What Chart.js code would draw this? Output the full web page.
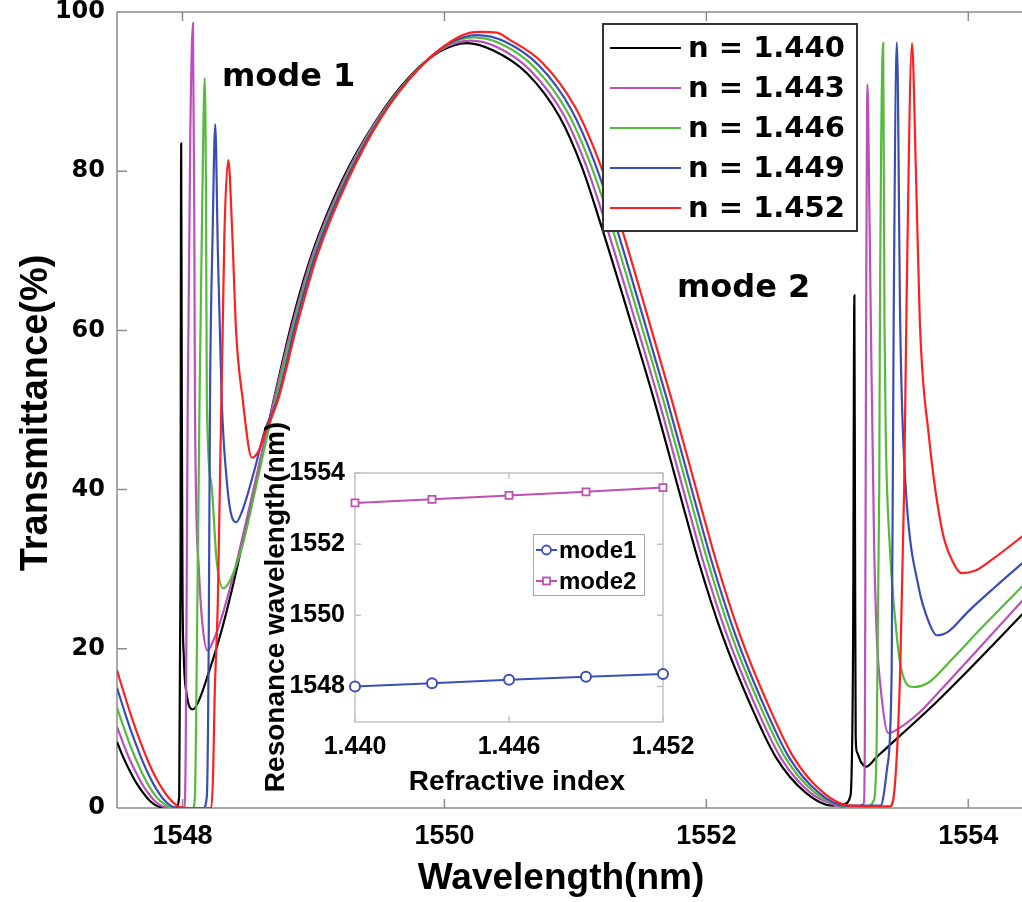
<!DOCTYPE html>
<html>
<head>
<meta charset="utf-8">
<script src="https://cdn.jsdelivr.net/npm/chart.js@4.4.1/dist/chart.umd.min.js"></script>
<style>
  html, body { margin: 0; padding: 0; background: #ffffff; }
  #wrap { position: relative; width: 1022px; height: 902px; }
  #wrap canvas { position: absolute; left: 0; top: 0; }
</style>
</head>
<body>
<div id="wrap">
  <canvas id="main" width="1022" height="902"></canvas>
  <canvas id="inset" width="1022" height="902"></canvas>
</div>
<script>
// ---- Transmission spectra (wavelength in nm, transmittance in %) ----
const wlN1440 = [1547.50,1547.55,1547.60,1547.65,1547.70,1547.75,1547.80,1547.85,1547.90,1547.95,1547.975,1547.985,1547.99,1547.995,1548.00,1548.01,1548.03,1548.08,1548.12,1548.20,1548.30,1548.40,1548.50,1548.60,1548.70,1548.84,1548.99,1549.22,1549.48,1549.73,1549.96,1550.17,1550.37,1550.63,1550.88,1551.05,1551.20,1551.40,1551.60,1551.81,1551.94,1552.12,1552.32,1552.53,1552.76,1552.96,1553.05,1553.10,1553.12,1553.13,1553.135,1553.14,1553.15,1553.18,1553.22,1553.30,1553.50,1553.75,1554.00,1554.20,1554.45];
const trN1440 = [8.3,6.3,4.6,3.1,1.9,0.9,0.3,0.05,0.0,0.0,1.5,30,83.5,50,28,19,14.5,12.4,13.3,17,22.4,29,36.5,44,51.5,61.3,69.7,78.9,86.4,91.8,95.0,96.1,95.2,92.3,86.8,80.5,73.0,62.3,51.3,38.7,31.0,21.8,13.6,6.4,1.9,0.3,0.5,1.5,20,64.4,35,9,7,5.8,5.2,6.4,9.4,13.2,17.3,20.7,25.0];

const wlN1443 = [1547.50,1547.55,1547.60,1547.65,1547.70,1547.75,1547.80,1547.85,1547.90,1548.00,1548.015,1548.025,1548.04,1548.06,1548.08,1548.09,1548.095,1548.125,1548.15,1548.19,1548.24,1548.30,1548.40,1548.50,1548.60,1548.70,1548.85,1549.00,1549.23,1549.49,1549.75,1549.98,1550.20,1550.40,1550.66,1550.91,1551.08,1551.235,1551.435,1551.635,1551.845,1551.975,1552.155,1552.355,1552.565,1552.795,1552.995,1553.10,1553.20,1553.21,1553.22,1553.23,1553.245,1553.255,1553.28,1553.30,1553.33,1553.39,1553.45,1553.62,1553.80,1554.00,1554.20,1554.45];
const trN1443 = [10.2,8.0,6.0,4.3,2.8,1.6,0.7,0.2,0.0,0.0,0.0,8,51,85,98.6,75,51,30,23.5,19.8,21.2,24.0,30,37,44.2,51.3,61.4,69.8,78.9,86.5,92.0,95.3,96.4,95.6,92.6,87.1,80.8,73.2,62.4,51.3,38.7,31.0,21.8,13.6,6.4,1.9,0.3,0.0,0.5,8,61,90.9,75,62,34,22,15.2,9.4,9.8,11.9,15.0,18.6,22.2,26.7];

const wlN1446 = [1547.50,1547.55,1547.60,1547.65,1547.70,1547.75,1547.80,1547.85,1547.90,1547.95,1548.08,1548.095,1548.11,1548.13,1548.15,1548.17,1548.18,1548.186,1548.22,1548.26,1548.31,1548.36,1548.45,1548.55,1548.63,1548.71,1548.86,1549.01,1549.24,1549.50,1549.76,1550.00,1550.22,1550.43,1550.69,1550.94,1551.11,1551.27,1551.47,1551.67,1551.88,1552.01,1552.19,1552.39,1552.60,1552.83,1553.03,1553.20,1553.28,1553.30,1553.32,1553.325,1553.35,1553.36,1553.37,1553.40,1553.43,1553.49,1553.58,1553.70,1553.87,1554.10,1554.45];
const trN1446 = [12.6,10.2,7.9,5.9,4.1,2.6,1.4,0.6,0.1,0.0,0.0,1.5,20,51,75,91.7,75,51,40.8,31.2,27.6,28.5,32.5,39.5,45.5,51.2,61.3,69.7,78.9,86.6,92.2,95.6,96.8,96.0,93.0,87.4,81.1,73.4,62.5,51.3,38.7,31.0,21.8,13.6,6.4,1.9,0.3,0.0,1,8,40,61,96.1,61,46.6,33,25.8,17.3,15.2,15.8,18.6,22.6,28.5];

const wlN1449 = [1547.50,1547.55,1547.60,1547.65,1547.70,1547.75,1547.80,1547.85,1547.90,1547.95,1548.00,1548.16,1548.186,1548.20,1548.21,1548.23,1548.25,1548.27,1548.30,1548.34,1548.37,1548.41,1548.46,1548.55,1548.63,1548.72,1548.87,1549.02,1549.25,1549.51,1549.78,1550.02,1550.25,1550.46,1550.72,1550.97,1551.14,1551.30,1551.50,1551.70,1551.91,1552.04,1552.22,1552.42,1552.63,1552.86,1553.06,1553.33,1553.38,1553.415,1553.43,1553.455,1553.48,1553.495,1553.53,1553.62,1553.70,1553.76,1553.85,1554.00,1554.20,1554.45];
const trN1449 = [15.1,12.5,10.0,7.8,5.7,3.9,2.4,1.2,0.4,0.05,0.0,0.0,1.5,20,51,72,85.9,70,51,40.8,37,35.9,37.5,42.5,47.5,51.1,61.2,69.7,78.9,86.7,92.5,95.9,97.1,96.3,93.3,87.7,81.4,73.6,62.6,51.3,38.7,31.0,21.8,13.6,6.4,1.9,0.3,0.3,5,17.3,61,96.2,61,50,38.3,27.8,23.3,21.7,22.2,24.7,27.7,31.3];

const wlN1452 = [1547.50,1547.55,1547.60,1547.65,1547.70,1547.75,1547.80,1547.85,1547.90,1547.95,1548.00,1548.05,1548.22,1548.235,1548.245,1548.27,1548.32,1548.35,1548.38,1548.41,1548.46,1548.53,1548.58,1548.64,1548.73,1548.88,1549.03,1549.26,1549.52,1549.80,1550.05,1550.20,1550.28,1550.40,1550.49,1550.75,1551.00,1551.17,1551.335,1551.535,1551.735,1551.945,1552.075,1552.255,1552.455,1552.665,1552.895,1553.095,1553.40,1553.44,1553.48,1553.51,1553.53,1553.57,1553.60,1553.63,1553.70,1553.80,1553.88,1553.95,1554.05,1554.18,1554.45];
const trN1452 = [17.3,14.6,12.0,9.6,7.4,5.4,3.7,2.3,1.2,0.4,0.05,0.0,0.0,5,13.6,26,72,81.4,72.2,59.7,51.3,44.0,44.8,47.5,51.3,61.0,69.5,78.8,86.8,92.8,96.3,97.4,97.5,97.4,96.6,93.6,88.0,81.7,73.8,62.7,51.3,38.7,31.0,21.8,13.6,6.4,1.9,0.3,0.2,3,17.3,40,65,96.1,80,61,46.6,34.9,31,29.5,29.8,31.2,34.6];

const seriesLabels = ['n = 1.440', 'n = 1.443', 'n = 1.446', 'n = 1.449', 'n = 1.452'];
const seriesColors = ['#000000', '#bb4fbb', '#55bb3a', '#3a4db2', '#ff1f1f'];
const seriesWl = [wlN1440, wlN1443, wlN1446, wlN1449, wlN1452];
const seriesTr = [trN1440, trN1443, trN1446, trN1449, trN1452];

const xTicks = [1548, 1550, 1552, 1554];
const yTicks = [0, 20, 40, 60, 80, 100];

// ---- Inset: resonance wavelength versus refractive index ----
const refIndex = [1.440, 1.443, 1.446, 1.449, 1.452];
const mode1Res = [1548.00, 1548.09, 1548.19, 1548.27, 1548.35];
const mode2Res = [1553.16, 1553.26, 1553.37, 1553.47, 1553.59];
const insetXTicks = [1.440, 1.446, 1.452];
const insetYTicks = [1548, 1550, 1552, 1554];

const SANS = "'Liberation Sans', Arial, sans-serif";
const HEAVY = "'DejaVu Sans', 'Liberation Sans', sans-serif";

// keep the plot box exactly where the layout padding puts it
function noScalePadding(s) {
  s.paddingTop = 0; s.paddingBottom = 0; s.paddingLeft = 0; s.paddingRight = 0;
}

// Box frame with inward tick marks for the main axes
const mainFrame = {
  id: 'mainFrame',
  beforeDatasetsDraw(chart) {
    const { ctx, chartArea: a, scales: { x, y } } = chart;
    ctx.save();
    ctx.strokeStyle = '#8c8c8c';
    ctx.lineWidth = 1.5;
    ctx.beginPath();
    ctx.moveTo(a.left, a.bottom); ctx.lineTo(a.left, a.top); ctx.lineTo(a.right + 2, a.top);
    ctx.moveTo(a.left, a.bottom); ctx.lineTo(a.right + 2, a.bottom);
    xTicks.forEach(v => {
      const px = x.getPixelForValue(v);
      ctx.moveTo(px, a.bottom); ctx.lineTo(px, a.bottom - 9);
      ctx.moveTo(px, a.top); ctx.lineTo(px, a.top + 9);
    });
    yTicks.forEach(v => {
      if (v === 0 || v === 100) return;
      const py = y.getPixelForValue(v);
      ctx.moveTo(a.left, py); ctx.lineTo(a.left + 10, py);
    });
    ctx.stroke();
    ctx.restore();
  }
};

// Axis titles, mode labels and the series legend
const mainDecor = {
  id: 'mainDecor',
  afterDraw(chart) {
    const { ctx } = chart;
    ctx.save();
    ctx.fillStyle = '#000';
    ctx.font = `bold 37px ${SANS}`;
    ctx.textAlign = 'center';
    ctx.textBaseline = 'middle';
    ctx.fillText('Wavelength(nm)', 561, 879);
    ctx.save();
    ctx.translate(37, 413);
    ctx.rotate(-Math.PI / 2);
    ctx.font = `bold 38px ${SANS}`;
    ctx.fillText('Transmittance(%)', 0, 0);
    ctx.restore();

    ctx.font = `bold 32px ${HEAVY}`;
    ctx.textAlign = 'left';
    ctx.textBaseline = 'alphabetic';
    ctx.fillText('mode 1', 222, 86);
    ctx.fillText('mode 2', 677, 297);

    // legend box
    ctx.fillStyle = '#ffffff';
    ctx.fillRect(603, 24, 254, 207);
    ctx.strokeStyle = '#333333';
    ctx.lineWidth = 2;
    ctx.strokeRect(603, 24, 254, 207);
    chart.data.datasets.forEach((ds, i) => {
      const ry = 48 + i * 40;
      ctx.strokeStyle = ds.borderColor;
      ctx.lineWidth = 2;
      ctx.beginPath();
      ctx.moveTo(610, ry); ctx.lineTo(681, ry);
      ctx.stroke();
      ctx.fillStyle = '#000';
      ctx.font = `bold 29px ${HEAVY}`;
      ctx.textBaseline = 'middle';
      ctx.fillText(ds.label, 688, ry + 1);
    });
    ctx.restore();
  }
};

new Chart(document.getElementById('main'), {
  type: 'scatter',
  data: {
    datasets: seriesLabels.map((label, i) => ({
      label,
      data: seriesWl[i].map((w, j) => ({ x: w, y: seriesTr[i][j] })),
      borderColor: seriesColors[i],
      backgroundColor: seriesColors[i],
      showLine: true,
      pointRadius: 0,
      borderWidth: 2.2,
      cubicInterpolationMode: 'monotone',
      order: seriesLabels.length - 1 - i
    }))
  },
  options: {
    responsive: false,
    animation: false,
    devicePixelRatio: 1,
    layout: { padding: { left: 0, top: 12, right: 0, bottom: 0 }, autoPadding: false },
    plugins: { legend: { display: false }, tooltip: { enabled: false } },
    scales: {
      x: {
        type: 'linear', min: 1547.5, max: 1554.41,
        afterBuildTicks: s => { s.ticks = xTicks.map(v => ({ value: v })); },
        afterFit: s => { s.height = 94; noScalePadding(s); },
        ticks: { font: { family: SANS, weight: 'bold', size: 27 }, color: '#000', padding: 12, maxRotation: 0, autoSkip: false, callback: v => String(v) },
        grid: { display: false, drawTicks: false },
        border: { display: false }
      },
      y: {
        type: 'linear', min: 0, max: 100,
        afterBuildTicks: s => { s.ticks = yTicks.map(v => ({ value: v })); },
        afterFit: s => { s.width = 117; noScalePadding(s); },
        ticks: { font: { family: HEAVY, weight: 'bold', size: 24 }, color: '#000', padding: 12 },
        grid: { display: false, drawTicks: false },
        border: { display: false }
      }
    }
  },
  plugins: [mainFrame, mainDecor]
});

// Inset frame, titles and legend
const insetDecor = {
  id: 'insetDecor',
  beforeDatasetsDraw(chart) {
    const { ctx, chartArea: a, scales: { x, y } } = chart;
    ctx.save();
    ctx.strokeStyle = '#c2c2c2';
    ctx.lineWidth = 1.5;
    ctx.strokeRect(a.left, a.top, a.right - a.left, a.bottom - a.top);
    ctx.beginPath();
    insetXTicks.forEach(v => {
      const px = x.getPixelForValue(v);
      ctx.moveTo(px, a.bottom); ctx.lineTo(px, a.bottom - 6);
      ctx.moveTo(px, a.top); ctx.lineTo(px, a.top + 6);
    });
    insetYTicks.forEach(v => {
      const py = y.getPixelForValue(v);
      ctx.moveTo(a.left, py); ctx.lineTo(a.left + 6, py);
      ctx.moveTo(a.right, py); ctx.lineTo(a.right - 6, py);
    });
    ctx.stroke();
    ctx.restore();
  },
  afterDraw(chart) {
    const { ctx } = chart;
    ctx.save();
    ctx.fillStyle = '#000';
    ctx.font = `bold 28px ${SANS}`;
    ctx.textAlign = 'center';
    ctx.textBaseline = 'middle';
    ctx.fillText('Refractive index', 517, 782);
    ctx.save();
    ctx.translate(276, 607);
    ctx.rotate(-Math.PI / 2);
    ctx.fillText('Resonance wavelength(nm)', 0, 0);
    ctx.restore();

    ctx.fillStyle = '#ffffff';
    ctx.fillRect(533, 534, 111, 61);
    ctx.strokeStyle = '#a8a8a8';
    ctx.lineWidth = 1;
    ctx.strokeRect(533.5, 534.5, 111, 61);
    chart.data.datasets.forEach((ds, i) => {
      const ry = 550 + i * 31;
      ctx.strokeStyle = ds.borderColor;
      ctx.lineWidth = 2;
      ctx.beginPath();
      ctx.moveTo(536, ry); ctx.lineTo(557, ry);
      ctx.stroke();
      ctx.lineWidth = 1.8;
      if (ds.pointStyle === 'circle') {
        ctx.fillStyle = '#ffffff';
        ctx.beginPath(); ctx.arc(546.5, ry, 4.5, 0, Math.PI * 2); ctx.fill(); ctx.stroke();
      } else {
        ctx.fillStyle = '#ffffff';
        ctx.fillRect(543, ry - 3.5, 7, 7); ctx.strokeRect(543, ry - 3.5, 7, 7);
      }
      ctx.fillStyle = '#000';
      ctx.font = `bold 24px ${SANS}`;
      ctx.textAlign = 'left';
      ctx.fillText(ds.label, 559, ry + 1);
    });
    ctx.restore();
  }
};

new Chart(document.getElementById('inset'), {
  type: 'scatter',
  data: {
    datasets: [
      {
        label: 'mode1',
        data: refIndex.map((n, i) => ({ x: n, y: mode1Res[i] })),
        borderColor: '#3c4fb4', backgroundColor: '#ffffff',
        pointStyle: 'circle', pointRadius: 5, pointBorderWidth: 2,
        showLine: true, borderWidth: 2, clip: false
      },
      {
        label: 'mode2',
        data: refIndex.map((n, i) => ({ x: n, y: mode2Res[i] })),
        borderColor: '#c04fb4', backgroundColor: '#ffffff',
        pointStyle: 'rect', pointRadius: 5, pointBorderWidth: 1.8,
        showLine: true, borderWidth: 2, clip: false
      }
    ]
  },
  options: {
    responsive: false,
    animation: false,
    devicePixelRatio: 1,
    layout: { padding: { left: 0, top: 473, right: 359, bottom: 0 }, autoPadding: false },
    plugins: { legend: { display: false }, tooltip: { enabled: false } },
    scales: {
      x: {
        type: 'linear', min: 1.440, max: 1.452,
        afterBuildTicks: s => { s.ticks = insetXTicks.map(v => ({ value: v })); },
        afterFit: s => { s.height = 180; noScalePadding(s); },
        ticks: { font: { family: SANS, weight: 'bold', size: 25 }, color: '#000', padding: 10, maxRotation: 0, autoSkip: false, callback: v => Number(v).toFixed(3) },
        grid: { display: false, drawTicks: false },
        border: { display: false }
      },
      y: {
        type: 'linear', min: 1547, max: 1554,
        afterBuildTicks: s => { s.ticks = insetYTicks.map(v => ({ value: v })); },
        afterFit: s => { s.width = 355; noScalePadding(s); },
        ticks: { font: { family: SANS, weight: 'bold', size: 25 }, color: '#000', padding: 10, callback: v => String(v) },
        grid: { display: false, drawTicks: false },
        border: { display: false }
      }
    }
  },
  plugins: [insetDecor]
});
</script>
</body>
</html>
